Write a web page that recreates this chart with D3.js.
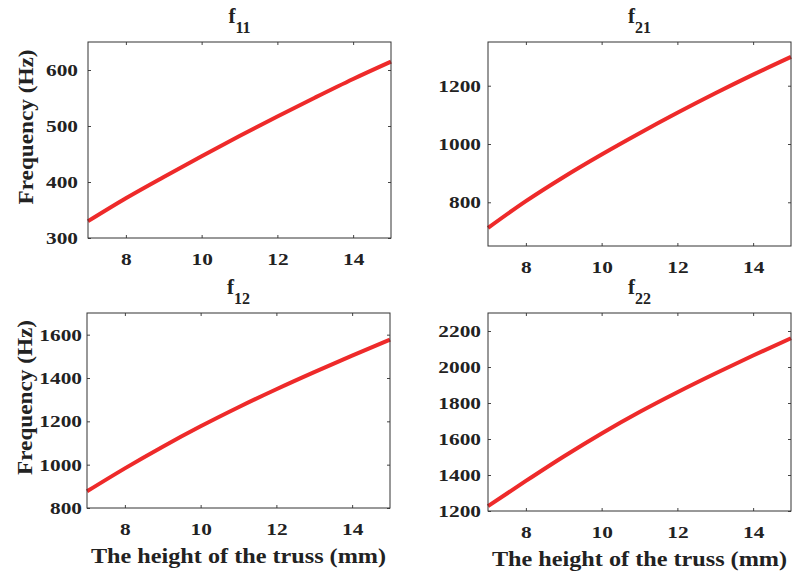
<!DOCTYPE html>
<html>
<head>
<meta charset="utf-8">
<script src="https://cdn.jsdelivr.net/npm/d3@7"></script>
<style>
  body { margin: 0; background: #fff; }
  svg text { font-family: "Liberation Serif", "Times New Roman", serif; font-weight: bold; fill: #222; }
</style>
</head>
<body>
<svg id="chart" width="792" height="576"></svg>
<script>
// Truss height (mm) and the natural frequencies (Hz) of four modes
const heights = [7, 8, 9, 10, 11, 12, 13, 14, 15];
const f11 = [330, 371, 409, 446, 482, 517, 551, 584, 615];
const f21 = [712, 804, 887, 964, 1037, 1107, 1174, 1238, 1299];
const f12 = [877, 983, 1083, 1177, 1265, 1348, 1427, 1503, 1577];
const f22 = [1227, 1367, 1503, 1631, 1750, 1860, 1964, 2064, 2160];

const xTicks = [8, 10, 12, 14];
const yTicks11 = [300, 400, 500, 600];
const yTicks21 = [800, 1000, 1200];
const yTicks12 = [800, 1000, 1200, 1400, 1600];
const yTicks22 = [1200, 1400, 1600, 1800, 2000, 2200];

const yLabel = "Frequency (Hz)";
const xLabel = "The height of the truss (mm)";

const panels = [
  { name: "f", sub: "11", values: f11, yDomain: [300, 650], yTicks: yTicks11, yPad: 10,
    box: { left: 88, right: 391, top: 42, bottom: 238 }, showY: true, showX: false },
  { name: "f", sub: "21", values: f21, yDomain: [650, 1350], yTicks: yTicks21, yPad: 7,
    box: { left: 488, right: 791, top: 42, bottom: 246 }, showY: false, showX: false },
  { name: "f", sub: "12", values: f12, yDomain: [800, 1700], yTicks: yTicks12, yPad: 5,
    box: { left: 87, right: 390, top: 313, bottom: 508 }, showY: true, showX: true },
  { name: "f", sub: "22", values: f22, yDomain: [1200, 2300], yTicks: yTicks22, yPad: 7,
    box: { left: 488, right: 791, top: 313, bottom: 511 }, showY: false, showX: true }
];

const svg = d3.select("#chart");
const tickLen = 3;
const tickFont = 17.5;

// widen glyphs horizontally (the typeface is set wide in this figure)
function widen(sel, factor) {
  sel.each(function () {
    const w = this.getComputedTextLength();
    d3.select(this).attr("textLength", w * factor).attr("lengthAdjust", "spacingAndGlyphs");
  });
}

panels.forEach(p => {
  const b = p.box;
  const x = d3.scaleLinear().domain([7, 15]).range([b.left, b.right]);
  const y = d3.scaleLinear().domain(p.yDomain).range([b.bottom, b.top]);
  const g = svg.append("g");

  // curve
  const line = d3.line()
    .x((d, i) => x(heights[i]))
    .y(d => y(d))
    .curve(d3.curveMonotoneX);
  g.append("path")
    .datum(p.values)
    .attr("d", line)
    .attr("fill", "none")
    .attr("stroke", "#ee2a2a")
    .attr("stroke-width", 4);

  // inward ticks on all four sides
  const axStyle = sel => {
    sel.attr("font-family", null).attr("font-size", null);
    sel.select(".domain").remove();
    sel.selectAll(".tick line").attr("stroke", "#444").attr("stroke-width", 1);
    sel.selectAll(".tick text")
      .style("font-size", tickFont + "px")
      .attr("fill", "#222");
  };

  const bottomAx = g.append("g")
    .attr("transform", `translate(0,${b.bottom})`)
    .call(d3.axisBottom(x).tickValues(xTicks).tickSize(-tickLen).tickPadding(15).tickFormat(d3.format("d")))
    .call(axStyle);
  g.append("g")
    .attr("transform", `translate(0,${b.top})`)
    .call(d3.axisTop(x).tickValues(xTicks).tickSize(-tickLen).tickFormat(""))
    .call(axStyle);
  const leftAx = g.append("g")
    .attr("transform", `translate(${b.left},0)`)
    .call(d3.axisLeft(y).tickValues(p.yTicks).tickSize(-tickLen).tickPadding(p.yPad).tickFormat(d3.format("d")))
    .call(axStyle);
  g.append("g")
    .attr("transform", `translate(${b.right},0)`)
    .call(d3.axisRight(y).tickValues(p.yTicks).tickSize(-tickLen).tickFormat(""))
    .call(axStyle);

  widen(bottomAx.selectAll(".tick text"), 1.22);
  widen(leftAx.selectAll(".tick text"), 1.22);

  // frame
  g.append("rect")
    .attr("x", b.left).attr("y", b.top)
    .attr("width", b.right - b.left).attr("height", b.bottom - b.top)
    .attr("fill", "none").attr("stroke", "#333").attr("stroke-width", 1);

  // title with subscript
  const cx = (b.left + b.right) / 2;
  const t = g.append("text")
    .attr("x", cx)
    .attr("y", b.top - 19)
    .attr("text-anchor", "middle")
    .style("font-size", "21px");
  t.append("tspan").text(p.name);
  t.append("tspan")
    .attr("dy", 10)
    .style("font-size", "16px")
    .text(p.sub);

  if (p.showY) {
    const yl = g.append("text")
      .attr("transform", `translate(${b.left - 55},${(b.top + b.bottom) / 2 - 13}) rotate(-90)`)
      .attr("text-anchor", "middle")
      .style("font-size", "21px")
      .text(yLabel);
    yl.attr("textLength", 155).attr("lengthAdjust", "spacingAndGlyphs");
  }
  if (p.showX) {
    const xl = g.append("text")
      .attr("x", cx)
      .attr("y", b.bottom + 55)
      .attr("text-anchor", "middle")
      .style("font-size", "22px")
      .text(xLabel);
    widen(xl, 1.1);
  }
});
</script>
</body>
</html>
